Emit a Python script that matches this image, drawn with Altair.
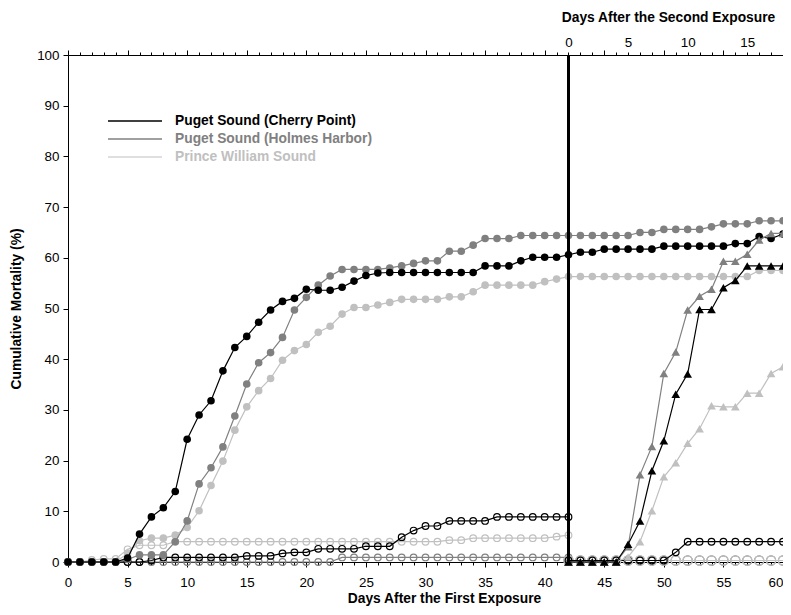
import altair as alt
import pandas as pd

# ---------------- data ----------------
days_all = list(range(0, 61))      # first-exposure day axis, filled-circle series
days_first = list(range(0, 43))    # open-circle series of the first exposure
days_second = list(range(42, 61))  # series of the second exposure
second_exposure_day = [42]

cp_filled = [0, 0, 0, 0, 0, 0.8, 5.5, 8.9, 10.7, 13.9,
             24.2, 29.0, 31.8, 37.7, 42.3, 44.5, 47.3, 49.7, 51.4, 52.0,
             53.8, 53.6, 53.6, 54.2, 55.4, 56.5, 57.0, 57.1, 57.1, 57.1,
             57.1, 57.1, 57.1, 57.1, 57.1, 58.4, 58.4, 58.4, 59.4, 60.1,
             60.1, 60.1, 60.6, 61.1, 61.1, 61.7, 61.7, 61.7, 61.7, 61.7,
             62.3, 62.3, 62.3, 62.3, 62.3, 62.3, 62.8, 62.8, 64.2, 63.8,
             64.7]
hh_filled = [0, 0, 0, 0, 0, 0.5, 1.4, 1.4, 1.4, 4.0,
             8.1, 15.4, 18.6, 22.7, 28.8, 35.1, 39.3, 41.3, 44.3, 49.7,
             52.2, 54.6, 56.4, 57.7, 57.7, 57.7, 57.7, 58.0, 58.4, 58.9,
             59.4, 59.4, 61.3, 61.3, 62.5, 63.8, 63.8, 63.8, 64.4, 64.4,
             64.4, 64.4, 64.4, 64.4, 64.4, 64.4, 64.4, 64.4, 65.0, 65.0,
             65.6, 65.6, 65.6, 65.6, 66.1, 66.7, 66.7, 66.7, 67.3, 67.3,
             67.3]
pws_filled = [0, 0, 0, 0, 0, 1.7, 4.2, 4.7, 4.7, 5.3,
              6.8, 10.1, 15.1, 19.9, 26.0, 30.6, 33.8, 36.2, 39.8, 41.7,
              42.9, 45.3, 46.5, 48.9, 50.2, 50.2, 50.7, 51.2, 51.8, 51.8,
              51.8, 51.8, 52.3, 52.3, 53.3, 54.6, 54.6, 54.6, 54.6, 54.6,
              55.3, 55.8, 56.3, 56.3, 56.3, 56.3, 56.3, 56.3, 56.3, 56.3,
              56.3, 56.3, 56.3, 56.3, 56.3, 56.3, 56.3, 56.3, 57.5, 57.5,
              57.5]

cp_open1 = [0, 0, 0, 0, 0, 0, 0, 0.3, 0.9, 0.9,
            0.9, 0.9, 0.9, 0.9, 0.9, 1.2, 1.2, 1.2, 1.7, 1.9,
            1.9, 2.6, 2.6, 2.6, 2.6, 3.1, 3.1, 3.1, 4.9, 6.2,
            7.1, 7.1, 8.1, 8.1, 8.1, 8.1, 8.9, 8.9, 8.9, 8.9,
            8.9, 8.9, 8.9]
hh_open1 = [0, 0, 0, 0, 0, 0, 0, 0, 0, 0,
            0, 0, 0, 0, 0, 0, 0, 0, 0, 0,
            0, 0, 0, 0.9, 0.9, 0.9, 0.9, 0.9, 0.9, 0.9,
            0.9, 0.9, 0.9, 0.9, 0.9, 0.9, 0.9, 0.9, 0.9, 0.9,
            0.9, 0.9, 0.9]
pws_open1 = [0, 0, 0.4, 0.6, 0.6, 2.5, 3.3, 3.3, 3.3, 4.0,
             4.0, 4.0, 4.0, 4.0, 4.0, 4.0, 4.0, 4.0, 4.0, 4.0,
             4.0, 4.0, 4.0, 4.0, 4.0, 4.0, 4.0, 4.0, 4.0, 4.0,
             4.0, 4.0, 4.3, 4.3, 4.7, 4.7, 4.7, 4.7, 4.7, 4.7,
             4.7, 5.0, 5.3]

cp_tri = [0, 0, 0, 0, 0, 3.5, 8.1, 18.0, 23.9, 33.1,
          37.1, 49.8, 49.8, 54.1, 55.5, 58.4, 58.4, 58.4, 58.4]
hh_tri = [0, 0, 0, 0, 0, 3.0, 17.2, 22.8, 37.2, 41.4,
          49.7, 52.4, 53.8, 59.3, 59.3, 60.7, 63.5, 64.8, 64.8]
pws_tri = [0, 0, 0, 0, 0, 1.0, 4.0, 10.1, 16.8, 19.6,
           23.4, 26.3, 30.8, 30.6, 30.6, 33.3, 33.3, 37.2, 38.5]

cp_open2 = [0.3, 0.3, 0.3, 0.3, 0.3, 0.3, 0.3, 0.3, 0.3, 1.9,
            4.0, 4.0, 4.0, 4.0, 4.0, 4.0, 4.0, 4.0, 4.0]
hh_open2 = [0.3, 0.3, 0.3, 0.3, 0.3, 0.3, 0.3, 0.3, 0.3, 0.3,
            0.3, 0.3, 0.3, 0.3, 0.3, 0.3, 0.3, 0.3, 0.3]
pws_open2 = [0.3, 0.3, 0.3, 0.3, 0.3, 0.3, 0.3, 0.3, 0.3, 0.3,
             0.3, 0.3, 0.3, 0.3, 0.3, 0.3, 0.3, 0.3, 0.3]

legend_labels = ["Puget Sound (Cherry Point)", "Puget Sound (Holmes Harbor)", "Prince William Sound"]
legend_colors = ["#000000", "#808080", "#c0c0c0"]
y_ticks = [0, 10, 20, 30, 40, 50, 60, 70, 80, 90, 100]

BLACK, GRAY, LIGHT = legend_colors
FONT = "Liberation Sans"

# ---------------- scales / axes ----------------
xscale = alt.Scale(domain=[0, 60], nice=False, zero=False)
yscale = alt.Scale(domain=[0, 100], nice=False)

tick_cond = {"condition": {"test": "datum.value % 5 == 0", "value": 5}, "value": 3}

bottom_axis = alt.Axis(
    orient="bottom", values=days_all,
    labelExpr="datum.value % 5 == 0 ? datum.label : ''",
    labelAlign={"condition": {"test": "datum.value == 60", "value": "right"}, "value": "center"},
    labelOverlap=False, labelFlush=False, tickSize=tick_cond, labelPadding=8,
    title="Days After the First Exposure", titleX=376, titleY=36,
    titleAlign="center", titleBaseline="middle", grid=False,
)
top_axis = alt.Axis(
    orient="top", values=days_all,
    labelExpr="datum.value >= 42 && (datum.value - 42) % 5 == 0 ? '' + (datum.value - 42) : ''",
    labelOverlap=False, labelFlush=False, tickSize=tick_cond, labelPadding=3,
    title="Days After the Second Exposure", titleX=600, titleY=-38,
    titleAlign="center", titleBaseline="middle", grid=False,
)
left_axis = alt.Axis(
    orient="left", values=y_ticks, tickSize=5, labelPadding=4,
    title="Cumulative Mortality (%)", titleX=-52, titleY=253.5, titleAngle=270,
    titleAlign="center", titleBaseline="middle", grid=False,
)


def series(days, values, color, shape, filled, size, lw=1.2, pw=1.2, axes=False):
    df = pd.DataFrame({"day": days, "value": values})
    return alt.Chart(df).mark_line(
        color=color, strokeWidth=lw,
        point=alt.OverlayMarkDef(shape=shape, filled=filled, size=size, color=color, strokeWidth=pw),
    ).encode(
        x=alt.X("day:Q", scale=xscale, axis=bottom_axis if axes else None),
        y=alt.Y("value:Q", scale=yscale, axis=left_axis if axes else None),
    )


layers = [
    series(days_first, hh_open1, GRAY, "circle", False, 44, axes=True),
    series(days_second, hh_open2, GRAY, "circle", False, 85),
    series(days_second, pws_open2, LIGHT, "circle", False, 85),
    series(days_second, cp_open2, BLACK, "circle", False, 44),
    series(days_first, pws_open1, LIGHT, "circle", False, 44),
    series(days_first, cp_open1, BLACK, "circle", False, 44),
    series(days_all, pws_filled, LIGHT, "circle", True, 58),
    series(days_all, hh_filled, GRAY, "circle", True, 58),
    series(days_all, cp_filled, BLACK, "circle", True, 58),
    series(days_second, pws_tri, LIGHT, "triangle-up", True, 75),
    series(days_second, hh_tri, GRAY, "triangle-up", True, 75),
    series(days_second, cp_tri, BLACK, "triangle-up", True, 75),
]

rule = alt.Chart(pd.DataFrame({"day": second_exposure_day})).mark_rule(
    color="black", strokeWidth=3
).encode(x=alt.X("day:Q", scale=xscale, axis=top_axis))
layers.append(rule)

legend_widths = [1.6, 1.3, 1.2]
for i, (lab, col) in enumerate(zip(legend_labels, legend_colors)):
    ldf = pd.DataFrame({"label": [lab]})
    ypos = 66 + 18 * i
    layers.append(
        alt.Chart(ldf).mark_rule(color=col, strokeWidth=legend_widths[i]).encode(
            x=alt.value(40), x2=alt.value(94), y=alt.value(ypos)
        )
    )
    layers.append(
        alt.Chart(ldf).mark_text(
            align="left", baseline="middle", fontWeight="bold", fontSize=13.8,
            font=FONT, color=col,
        ).encode(x=alt.value(107), y=alt.value(ypos), text="label:N")
    )

chart = alt.layer(*layers).resolve_axis(x="independent", y="independent").properties(
    width=715, height=507,
    autosize=alt.AutoSizeParams(type="none"),
    padding={"left": 60, "top": 47, "right": 0, "bottom": 44},
).configure(font=FONT).configure_view(stroke=None).configure_axis(
    labelFont=FONT, titleFont=FONT, labelFontSize=13.4, titleFontSize=13.8,
    titleFontWeight="bold", labelColor="black", titleColor="black",
    domainColor="black", tickColor="black", domainWidth=1, tickWidth=1,
)

chart.save("out.html", embed_options={"renderer": "svg", "actions": False})
